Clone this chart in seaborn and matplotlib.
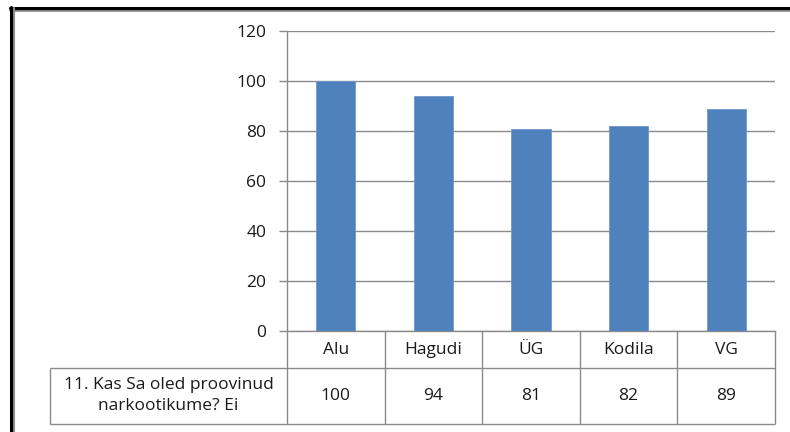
import matplotlib
matplotlib.use('Agg')
import matplotlib.pyplot as plt
import seaborn as sns
from matplotlib.lines import Line2D

categories = ['Alu', 'Hagudi', 'ÜG', 'Kodila', 'VG']
values = [100, 94, 81, 82, 89]
row_label = '11. Kas Sa oled proovinud\nnarkootikume? Ei'
y_ticks = [0, 20, 40, 60, 80, 100, 120]

sns.set_style('white')
plt.rcParams['font.family'] = ['Open Sans', 'DejaVu Sans']

W, H = 790, 432
fig = plt.figure(figsize=(W / 100, H / 100), dpi=100)

# plot area in pixel coords of the reference
x0, x1, y0, y1 = 287, 775, 31, 331
ax = fig.add_axes([x0 / W, 1 - y1 / H, (x1 - x0) / W, (y1 - y0) / H])

sns.barplot(x=categories, y=values, color='#4F81BD', saturation=1, width=0.4,
            edgecolor='#6d97cc', linewidth=0.6, ax=ax, zorder=3)

grid_c = '#8a8a8a'
txt_c = '#1a1a1a'
fs = 12.5
ax.set_ylim(0, 120)
ax.set_xlim(-0.5, len(categories) - 0.5)
ax.set_yticks(y_ticks)
ax.set_yticklabels([str(t) for t in y_ticks], fontsize=fs, color=txt_c)
ax.yaxis.grid(True, color=grid_c, linewidth=1)
ax.set_axisbelow(True)
ax.tick_params(axis='y', length=6, width=1, color=grid_c, pad=9, direction='out', left=True)
ax.tick_params(axis='x', bottom=False, labelbottom=False)
ax.set_xlabel('')
ax.set_ylabel('')
for s in ['top', 'right']:
    ax.spines[s].set_visible(False)
for s in ['left', 'bottom']:
    ax.spines[s].set_color(grid_c)
    ax.spines[s].set_linewidth(1)

# data table below the plot, drawn in its own axes (x in category units)
tx0, ty1 = 50, 424
r0, r1 = 37, 93                       # row boundaries in pixels below the axis
col_w = (x1 - x0) / len(categories)
left = -0.5 - (x0 - tx0) / col_w
tax = fig.add_axes([tx0 / W, 1 - ty1 / H, (x1 - tx0) / W, (ty1 - y1) / H])
tax.set_xlim(left, len(categories) - 0.5)
tax.set_ylim(r1 + 0.5, 0)
tax.axis('off')

line_kw = dict(color=grid_c, linewidth=1, clip_on=False)
tax.hlines([r0, r1], left, len(categories) - 0.5, **line_kw)
tax.vlines([i - 0.5 for i in range(len(categories) + 1)], 0, r1, **line_kw)
tax.vlines(left, r0, r1, **line_kw)

for i, (cat, val) in enumerate(zip(categories, values)):
    tax.text(i, r0 / 2 + 1, cat, ha='center', va='center', fontsize=fs, color=txt_c)
    tax.text(i, (r0 + r1) / 2, str(val), ha='center', va='center', fontsize=fs, color=txt_c)
tax.text((left - 0.5) / 2, (r0 + r1) / 2, row_label, ha='center', va='center',
         fontsize=fs, color=txt_c, linespacing=1.45)

# outer chart frame (top and left edges visible)
fig.add_artist(Line2D([10 / W, 1], [1 - 9.5 / H, 1 - 9.5 / H], color='#8a8a8a', linewidth=2))
fig.add_artist(Line2D([10 / W, 1], [1 - 7.5 / H, 1 - 7.5 / H], color='black', linewidth=2.2))
fig.add_artist(Line2D([13.5 / W, 13.5 / W], [0, 1 - 8 / H], color='#8a8a8a', linewidth=1.5))
fig.add_artist(Line2D([11 / W, 11 / W], [0, 1 - 6.5 / H], color='black', linewidth=2.2))

fig.savefig('out.png', dpi=100)
